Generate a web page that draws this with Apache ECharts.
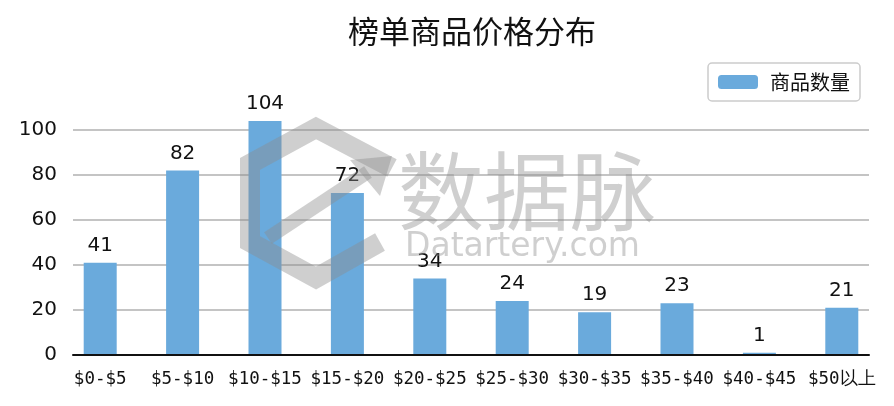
<!DOCTYPE html>
<html>
<head>
<meta charset="utf-8">
<script src="https://cdn.jsdelivr.net/npm/echarts@6/dist/echarts.min.js"></script>
<style>html,body{margin:0;padding:0;background:#fff}#c{width:894px;height:406px}</style>
</head>
<body>
<div id="c"></div>
<script>
const categories = ['$0-$5','$5-$10','$10-$15','$15-$20','$20-$25','$25-$30','$30-$35','$35-$40','$40-$45','$50以上'];
const counts = [41, 82, 104, 72, 34, 24, 19, 23, 1, 21];
const yTicks = {min: 0, max: 100, interval: 20};

const chart = echarts.init(document.getElementById('c'));
const wmColor = 'rgba(140,140,140,0.42)';
chart.setOption({
  animation: false,
  title: {
    text: '榜单商品价格分布', left: 467, top: 11, textAlign: 'center',
    textStyle: {fontFamily: 'Noto Sans CJK SC', fontSize: 31, fontWeight: 'normal', color: '#111'}
  },
  legend: {
    data: ['商品数量'], right: 34, top: 63, orient: 'horizontal',
    padding: [9, 10, 9, 10], itemWidth: 40, itemHeight: 14, itemGap: 10,
    borderColor: '#cccccc', borderWidth: 1.5, borderRadius: 4,
    textStyle: {fontFamily: 'Noto Sans CJK SC', fontSize: 20, color: '#111', padding: [0,0,0,7]}
  },
  grid: [
    {left: 59, right: 11, top: 130, bottom: 51},
    {left: 73, right: 25, top: 130, bottom: 51}
  ],
  xAxis: [
    {type: 'category', gridIndex: 0, data: categories, axisLine: {show: false}, axisTick: {show: false},
     axisLabel: {interval: 0, margin: 15, fontFamily: 'DejaVu Sans Mono', fontSize: 17.5, color: '#111'}},
    {type: 'category', gridIndex: 1, data: categories, z: 5, axisLine: {show: true, lineStyle: {color: '#111', width: 2}},
     axisTick: {show: false}, axisLabel: {show: false}}
  ],
  yAxis: [
    {type: 'value', gridIndex: 0, min: yTicks.min, max: yTicks.max, interval: yTicks.interval, show: false},
    {type: 'value', gridIndex: 1, min: yTicks.min, max: yTicks.max, interval: yTicks.interval,
     axisLine: {show: false}, axisTick: {show: false},
     axisLabel: {margin: 16, fontFamily: 'DejaVu Sans', fontSize: 20, color: '#111'},
     splitLine: {lineStyle: {color: '#b0b0b0', width: 1.5}}}
  ],
  series: [{
    name: '商品数量', type: 'bar', xAxisIndex: 0, yAxisIndex: 0, data: counts,
    barWidth: 33, clip: false, z: 3,
    itemStyle: {color: '#6aaadc'},
    label: {show: true, position: 'top', distance: 7, fontFamily: 'DejaVu Sans', fontSize: 20, color: '#111'}
  }],
  graphic: [
    {type: 'polyline', z: 100, silent: true,
     shape: {points: [[392,168],[316,128],[250,164],[250,242],[316,278],[380,242]]},
     style: {stroke: wmColor, lineWidth: 20, fill: null, lineJoin: 'miter'}},
    {type: 'polyline', z: 100, silent: true,
     shape: {points: [[268,238],[368,172]]},
     style: {stroke: wmColor, lineWidth: 14, fill: null}},
    {type: 'polygon', z: 100, silent: true,
     shape: {points: [[350,160],[392,156],[380,196]]},
     style: {fill: wmColor}},
    {type: 'text', z: 100, silent: true, left: 398, top: 148,
     style: {text: '数据脉', font: '86px "Noto Sans CJK SC"', fill: wmColor}},
    {type: 'text', z: 100, silent: true, left: 405, top: 231,
     style: {text: 'Datartery.com', font: '33px "DejaVu Sans"', fill: wmColor}}
  ]
});
</script>
</body>
</html>
